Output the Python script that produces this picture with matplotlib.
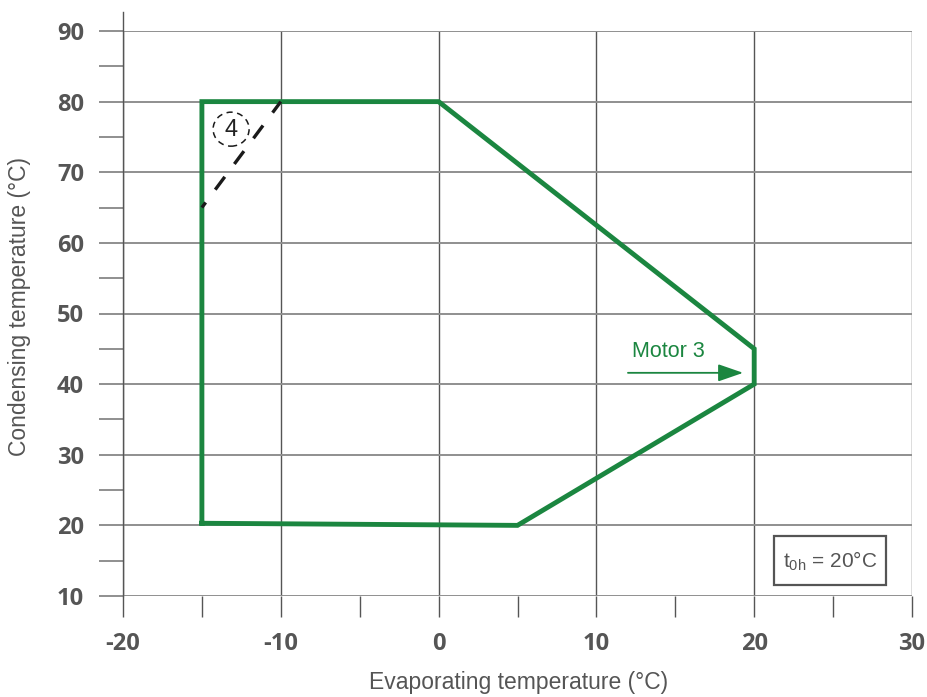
import matplotlib
matplotlib.use("Agg")
import matplotlib.pyplot as plt
from matplotlib.patches import Ellipse, Rectangle, FancyArrowPatch
from matplotlib.ticker import MultipleLocator

# ---- data ----
envelope_x = [-15, -15, 0, 20, 20, 5, -15]
envelope_y = [20.3, 80, 80, 45, 40, 20, 20.3]
limit4_x = [-15, -10]
limit4_y = [65, 80]
x_ticks = [-20, -10, 0, 10, 20, 30]
y_ticks = [10, 20, 30, 40, 50, 60, 70, 80, 90]
xlabel = "Evaporating temperature (°C)"
ylabel = "Condensing temperature (°C)"
motor_label = "Motor 3"
box_label = r"t$\mathregular{_{0h}}$ = 20°C"

GREEN = "#1b8640"
GRAY = "#555555"
LGRAY = "#8f8f8f"

fig = plt.figure(figsize=(9.28, 6.97), dpi=100)
ax = fig.add_axes([123/928, 1-596/697, (912-123)/928, (596-31)/697])
ax.set_xlim(-20, 30)
ax.set_ylim(10, 90)

for s in ax.spines.values():
    s.set_visible(False)

ax.xaxis.set_minor_locator(MultipleLocator(5))
ax.yaxis.set_minor_locator(MultipleLocator(5))
ax.set_xticks(x_ticks)
ax.set_yticks(y_ticks)
ax.set_xticklabels([str(v) for v in x_ticks])
ax.set_yticklabels([str(v) for v in y_ticks])

ax.tick_params(axis="x", which="both", direction="out", length=15, width=1.0,
               color=GRAY, pad=11, labelsize=17, labelcolor=GRAY)
ax.tick_params(axis="y", which="both", direction="out", length=17, width=1.4,
               color=LGRAY, pad=11, labelsize=17, labelcolor=GRAY)
for lab in ax.get_xticklabels() + ax.get_yticklabels():
    lab.set_fontfamily("Open Sans")
    lab.set_fontweight("bold")

ax.grid(True, axis="x", which="major", color=GRAY, lw=1.0)
ax.grid(True, axis="y", which="major", color=LGRAY, lw=1.4)
ax.set_axisbelow(True)

# left axis line extending above plot
ax.plot([-20, -20], [10, 92.7], color=GRAY, lw=1.0, clip_on=False, zorder=1)

# envelope
ax.plot(envelope_x, envelope_y, color=GREEN, lw=3.5, solid_joinstyle="miter",
        zorder=3)

# dashed limit line
ax.plot(limit4_x, limit4_y, color="#1a1a1a", lw=2.4,
        linestyle=(2.9, (4.8, 4.8)), zorder=4)

# circled 4
ax.add_patch(Ellipse((-13.15, 76.1), 36/15.78, 34/7.06, fill=False,
                     edgecolor="#1a1a1a", lw=1.1, linestyle=(0, (4, 3)),
                     zorder=5))
ax.text(-13.15, 76.0, "4", ha="center", va="center", fontsize=17,
        color="#222222", family="Liberation Sans", zorder=5)

# Motor 3 annotation
ax.text(12.25, 43.9, motor_label, ha="left", va="baseline", fontsize=15.5,
        color=GREEN, family="Liberation Sans")
ax.add_patch(FancyArrowPatch((12.0, 41.6), (19.3, 41.6),
                             arrowstyle="-|>,head_length=1.1,head_width=0.38",
                             mutation_scale=14, color=GREEN, lw=1.3,
                             shrinkA=0, shrinkB=0, zorder=5))

# t0h box
ax.add_patch(Rectangle((0.825, 0.0195), 0.142, 0.0865, transform=ax.transAxes,
                       fill=True, facecolor="white", edgecolor=GRAY, lw=1.6,
                       zorder=5))
ax.text(0.896, 0.062, box_label, transform=ax.transAxes, ha="center",
        va="center", fontsize=15, color=GRAY, family="Liberation Sans",
        zorder=6)

fig.text(519/928, 1-682/697, xlabel, ha="center", va="center", fontsize=16.5,
         color=GRAY, family="Liberation Sans")
fig.text(20/928, 1-307/697, ylabel, ha="center", va="center", fontsize=16.5,
         color=GRAY, family="Liberation Sans", rotation=90)

fig.savefig("out.png", dpi=100)
